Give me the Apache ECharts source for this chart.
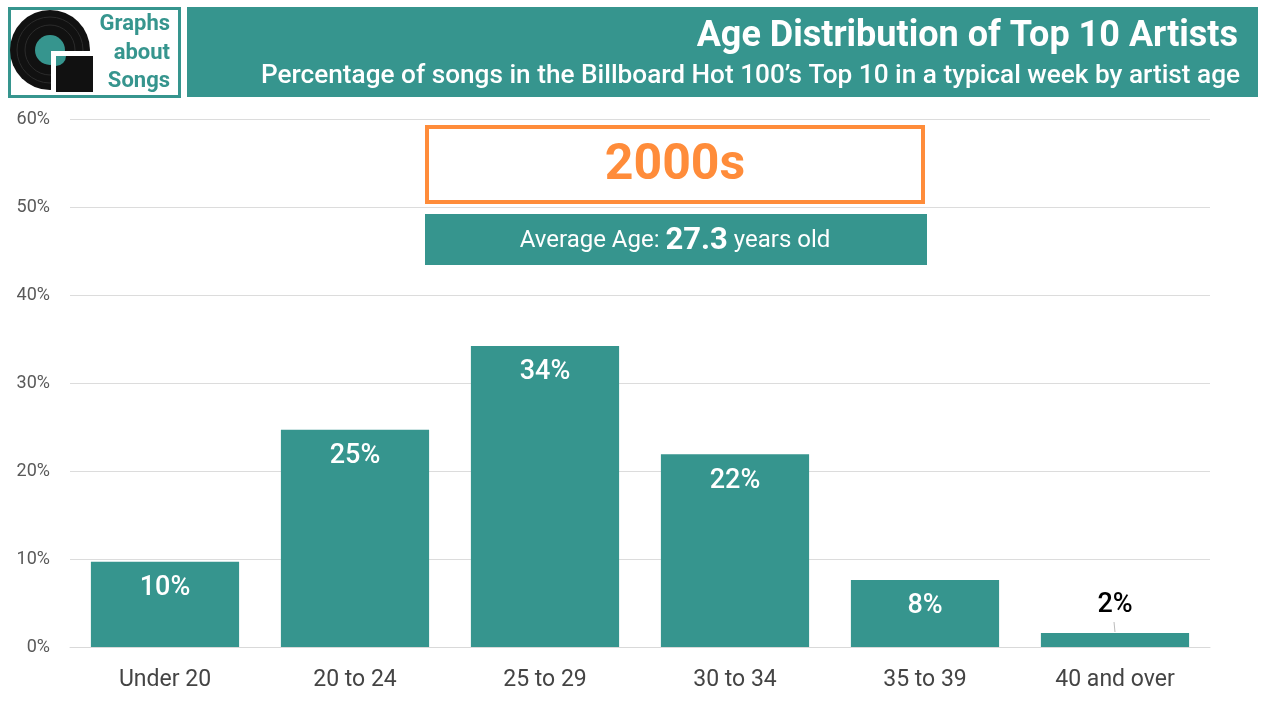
<!DOCTYPE html>
<html><head><meta charset="utf-8">
<script src="https://cdn.jsdelivr.net/npm/echarts@6/dist/echarts.min.js"></script>
<style>html,body{margin:0;padding:0;background:#fff}#c{width:1280px;height:720px}</style>
</head><body><div id="c"></div>
<script>
const categories = ['Under 20','20 to 24','25 to 29','30 to 34','35 to 39','40 and over'];
const values = [9.7, 24.7, 34.2, 21.9, 7.6, 1.6];
const valueLabels = ['10%','25%','34%','22%','8%','2%'];
const decade = '2000s';
const averageAge = '27.3';
const titleText = 'Age Distribution of Top 10 Artists';
const subtitleText = 'Percentage of songs in the Billboard Hot 100\u2019s Top 10 in a typical week by artist age';

const TEAL = '#36958e', ORANGE = '#ff8c3a';
const FONT = 'Roboto';
const chart = echarts.init(document.getElementById('c'), null, {renderer:'canvas'});

const data = values.map((v,i) => {
  const last = i === values.length - 1;
  return {
    value: v,
    label: last ? {position:'top', color:'#000', distance: 14} : {}
  };
});

chart.setOption({
  animation:false,
  textStyle:{fontFamily:FONT},
  grid:{left:70, right:70, top:119, bottom:73, containLabel:false},
  xAxis:{type:'category', data:categories,
    axisLine:{show:true, lineStyle:{color:'#d9d9d9'}}, axisTick:{show:false},
    axisLabel:{color:'#444', fontSize:23, fontFamily:FONT, margin:22}},
  yAxis:{type:'value', min:0, max:60, interval:10,
    axisLabel:{formatter:'{value}%', color:'#595959', fontSize:18, fontFamily:FONT, margin:20},
    splitLine:{lineStyle:{color:'#dcdcdc'}}, axisLine:{show:false}, axisTick:{show:false}},
  series:[{type:'bar', data:data, barWidth:'78%', itemStyle:{color:TEAL},
    label:{show:true, position:'insideTop', distance:13, color:'#fff', fontSize:27, fontFamily:FONT, fontWeight:500,
      formatter:p => valueLabels[p.dataIndex]}}],
  graphic:[
    // header teal box
    {type:'rect', shape:{x:187,y:7,width:1071,height:90}, style:{fill:TEAL}},
    {type:'text', style:{text:titleText, x:1238, y:37, align:'right', verticalAlign:'middle', fill:'#fff', font:'bold 36px '+FONT}},
    {type:'text', style:{text:subtitleText, x:1240, y:76, align:'right', verticalAlign:'middle', fill:'#fff', font:'500 26.2px '+FONT}},
    // logo box
    {type:'rect', shape:{x:9.5,y:8.5,width:170,height:88}, style:{fill:'#fff', stroke:TEAL, lineWidth:3}},
    {type:'circle', shape:{cx:50,cy:50,r:40}, style:{fill:'#111'}},
    {type:'circle', shape:{cx:50,cy:50,r:33}, style:{fill:'none', stroke:'#2b2b2b', lineWidth:1}},
    {type:'circle', shape:{cx:50,cy:50,r:25}, style:{fill:'none', stroke:'#2b2b2b', lineWidth:1}},
    {type:'circle', shape:{cx:50,cy:50,r:15}, style:{fill:TEAL}},
    {type:'rect', shape:{x:51,y:51,width:44,height:44}, style:{fill:'#fff'}},
    {type:'rect', shape:{x:56,y:56,width:37,height:36}, style:{fill:'#111'}},
    {type:'sector', shape:{cx:56,cy:56,r0:0,r:10,startAngle:0,endAngle:Math.PI/2}, style:{fill:TEAL}},
    {type:'text', style:{text:'Graphs', x:170, y:24, align:'right', verticalAlign:'middle', fill:TEAL, font:'bold 22px '+FONT}},
    {type:'text', style:{text:'about', x:170, y:53, align:'right', verticalAlign:'middle', fill:TEAL, font:'bold 22px '+FONT}},
    {type:'text', style:{text:'Songs', x:170, y:81, align:'right', verticalAlign:'middle', fill:TEAL, font:'bold 22px '+FONT}},
    // decade box
    {type:'rect', shape:{x:427,y:127,width:496,height:75}, style:{fill:'#fff', stroke:ORANGE, lineWidth:4}},
    {type:'text', style:{text:decade, x:675, y:166, align:'center', verticalAlign:'middle', fill:ORANGE, font:'bold 50px '+FONT}},
    // average age box
    {type:'rect', shape:{x:425,y:214,width:502,height:51}, style:{fill:TEAL}},
    {type:'text', style:{x:675, y:241, align:'center', verticalAlign:'middle',
      text:'{a|Average Age: }{b|'+averageAge+'}{a| years old}',
      rich:{a:{fill:'#fff', font:'24px '+FONT}, b:{fill:'#fff', font:'bold 31px '+FONT}}}},
    // tiny label line for last bar
    {type:'line', shape:{x1:1114,y1:622,x2:1115,y2:632}, style:{stroke:'#bbb', lineWidth:1}}
  ]
});
</script></body></html>
